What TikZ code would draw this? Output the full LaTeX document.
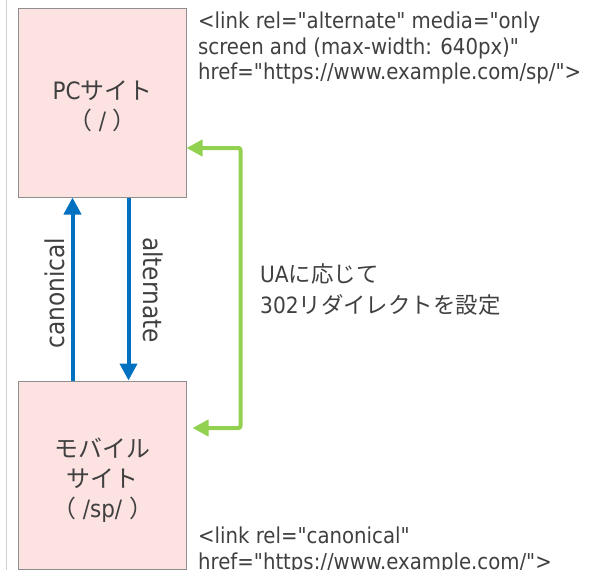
\documentclass[tikz,border=0pt]{standalone}
\usepackage{fontspec}
\usetikzlibrary{arrows.meta}
% plain straight quotes in the markup samples
\setmainfont{DejaVu Sans Condensed}[Ligatures=TeXOff]
\newfontfamily\jpfont{Noto Sans CJK JP}
\newcommand\jp[1]{{\jpfont #1}}

\definecolor{txtgray}{HTML}{404040}
\definecolor{boxfill}{HTML}{FDE2E2}
\definecolor{boxline}{HTML}{8E8E8E}
\definecolor{linkblue}{HTML}{0070C0}
\definecolor{uagreen}{HTML}{92D050}
\definecolor{edgegray}{HTML}{CFCFCF}

\tikzset{
  site/.style={draw=boxline, fill=boxfill, line width=1bp,
    minimum width=167bp, minimum height=188bp, inner sep=0pt},
  sitename/.style={inner sep=0pt, align=center, text=txtgray,
    font=\fontsize{24}{30}\selectfont},
  note/.style={inner sep=0pt, align=left, text=txtgray, anchor=base west,
    font=\fontsize{22}{26}\selectfont},
  relarrow/.style={draw=linkblue, line width=4bp,
    -{Triangle[length=17bp,width=17bp]}},
  redirect/.style={draw=uagreen, line width=4bp, rounded corners=2bp,
    {Triangle[length=16bp,width=16bp]}-{Triangle[length=16bp,width=16bp]}},
  rellabel/.style={inner sep=0pt, text=txtgray,
    font=\fontsize{26}{30}\selectfont}
}

\begin{document}
\begin{tikzpicture}[x=1bp, y=-1bp]
  \useasboundingbox (0,0) rectangle (615,570);

  % page edge on the left
  \draw[edgegray, line width=1.5bp] (6.5,0) -- (6.5,570);

  % the two sites
  \node[site, label={[sitename, yshift=-3bp]center:PC\jp{サイト}\\\jp{（} / \jp{）}}]
    (pc) at (102.5,103) {};
  \node[site, label={[sitename, yshift=-5bp]center:\jp{モバイル}\\\jp{サイト}\\\jp{（} /sp/ \jp{）}}]
    (mob) at (102.5,475) {};

  % link elements
  \draw[relarrow] ([xshift=54bp]mob.north west) -- ([xshift=54bp]pc.south west);
  \draw[relarrow] ([xshift=110bp]pc.south west) -- ([xshift=110bp]mob.north west);
  \node[rellabel, rotate=90]  (lcan) at (55,293)  {canonical};
  \node[rellabel, rotate=-90] (lalt) at (153,290) {alternate};

  % user-agent based redirect
  \draw[redirect, shorten >=6bp] ([yshift=-45bp]pc.east) -- ++(54,0)
    |- ([yshift=47bp]mob.east);
  \node[note, font=\fontsize{22.5}{31}\selectfont] (ua) at (260,313)
    {UA\jp{に応じて}\\302\jp{リダイレクトを設定}};

  % markup placed on each page
  \node[note] (altmark) at (198,80)
    {<link rel="alternate" media="only\\screen and (max-width: 640px)"\\href="https://www.example.com/sp/">};
  \node[note] (canmark) at (198,569)
    {<link rel="canonical"\\href="https://www.example.com/">};
\end{tikzpicture}
\end{document}
